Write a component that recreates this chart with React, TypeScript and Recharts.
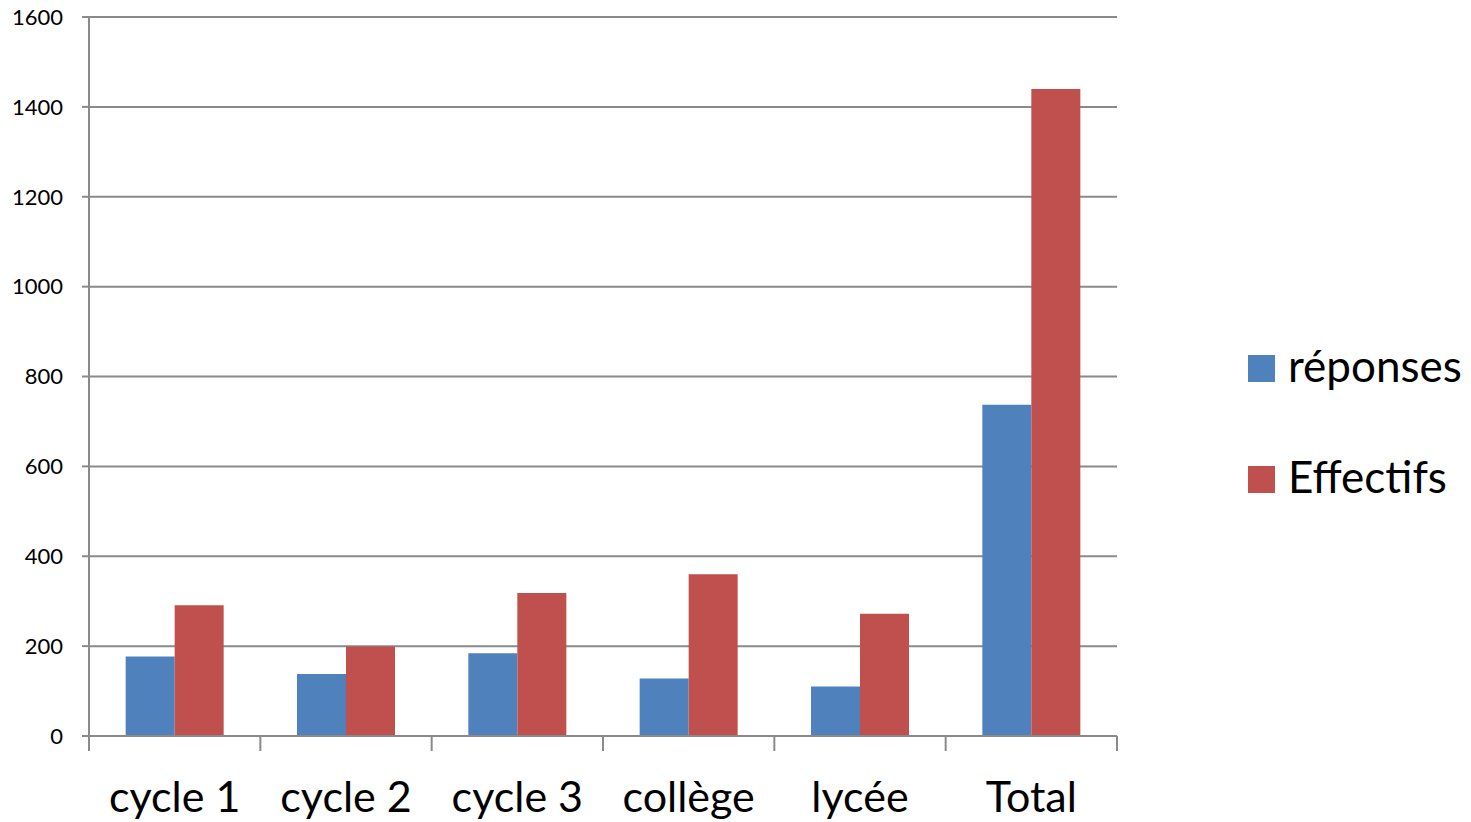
import React from 'react';
import { BarChart, Bar, XAxis, YAxis, CartesianGrid, Legend } from 'recharts';

const categories = ['cycle 1', 'cycle 2', 'cycle 3', 'collège', 'lycée', 'Total'];
const reponses = [177, 138, 184, 128, 110, 737];
const effectifs = [291, 199, 318, 360, 272, 1440];
const yTicks = [0, 200, 400, 600, 800, 1000, 1200, 1400, 1600];
const seriesNames = ['réponses', 'Effectifs'];
const seriesColors = ['#4F81BD', '#C0504D'];

const data = categories.map((c, i) => ({ cat: c, reponses: reponses[i], effectifs: effectifs[i] }));

const FONT = 'Lato, "Open Sans", sans-serif';
const GRAY = '#8a8a8a';

const CatTick = (props: any) => {
  const { x, y, payload, index } = props;
  const half = payload.offset || 0;
  const last = index === categories.length - 1;
  return (
    <g>
      <line x1={x - half} x2={x - half} y1={y} y2={y + 15} stroke={GRAY} strokeWidth={2} />
      {last && <line x1={x + half} x2={x + half} y1={y} y2={y + 15} stroke={GRAY} strokeWidth={2} />}
      <text x={x} y={y + 76} textAnchor="middle" fontSize={43} fontFamily={FONT} fill="#000">
        {payload.value}
      </text>
    </g>
  );
};

const LegendContent = () => (
  <svg width={223} height={170}>
    {seriesNames.map((n, i) => (
      <g key={n}>
        <rect x={0} y={15 + i * 111} width={27} height={27} fill={seriesColors[i]} />
        <text x={40} y={42 + i * 111} fontSize={44} fontFamily={FONT} fill="#000">{n}</text>
      </g>
    ))}
  </svg>
);

export default function App() {
  return (
    <div style={{ position: 'absolute', left: 0, top: 0, width: 1471, height: 822, background: '#fff' }}>
      <BarChart
        width={1471}
        height={822}
        data={data}
        margin={{ top: 17, right: 354, bottom: 0, left: 0 }}
        barCategoryGap="21.4%"
        barGap={0}
      >
        <CartesianGrid vertical={false} stroke={GRAY} strokeWidth={2} />
        <XAxis
          dataKey="cat"
          height={86}
          tickSize={0}
          tickMargin={0}
          tickLine={false}
          axisLine={{ stroke: GRAY, strokeWidth: 2 }}
          tick={CatTick}
          interval={0}
        />
        <YAxis
          domain={[0, 1600]}
          ticks={yTicks}
          width={89}
          tickSize={7}
          tickMargin={19}
          axisLine={{ stroke: GRAY, strokeWidth: 2 }}
          tickLine={{ stroke: GRAY, strokeWidth: 2 }}
          tick={{ fontSize: 22, fontFamily: FONT, fill: '#000' }}
          interval={0}
        />
        <Legend
          layout="vertical"
          align="center"
          verticalAlign="middle"
          content={LegendContent}
          wrapperStyle={{ position: 'absolute', left: 1248, top: 340, width: 223, height: 170 }}
        />
        <Bar dataKey="reponses" name={seriesNames[0]} fill={seriesColors[0]} isAnimationActive={false} />
        <Bar dataKey="effectifs" name={seriesNames[1]} fill={seriesColors[1]} isAnimationActive={false} />
      </BarChart>
    </div>
  );
}
